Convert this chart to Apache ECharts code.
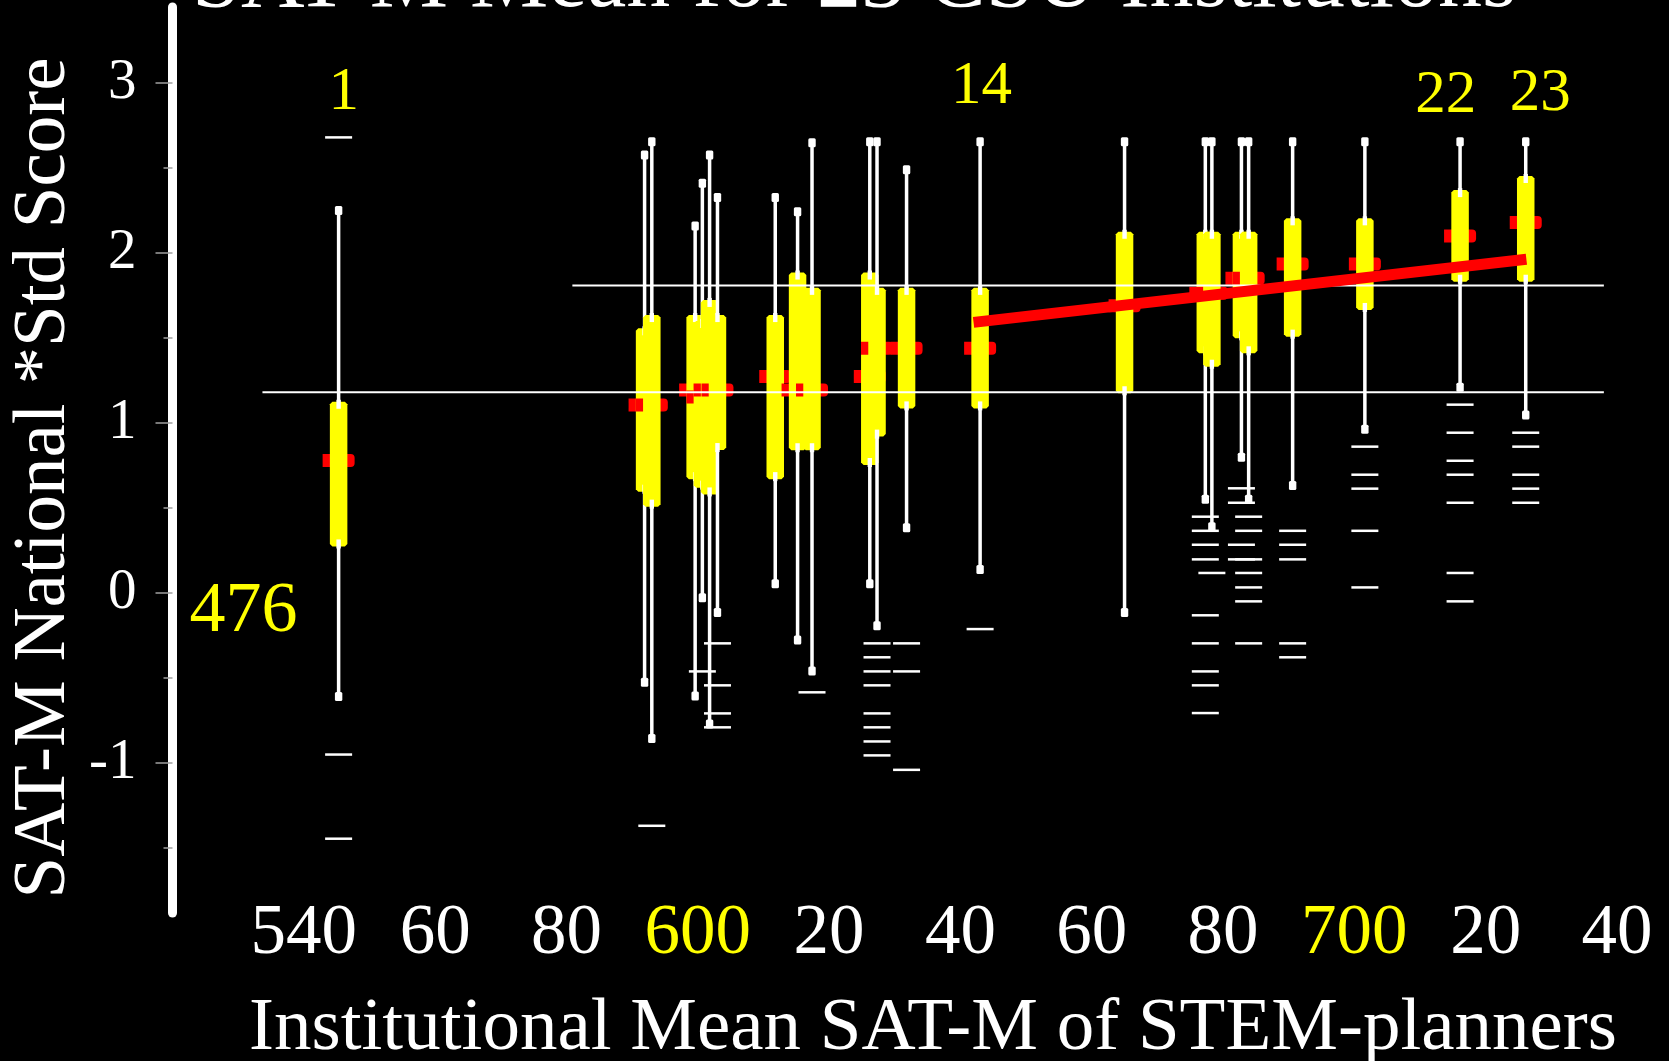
<!DOCTYPE html>
<html>
<head>
<meta charset="utf-8">
<script src="https://cdn.jsdelivr.net/npm/echarts@6/dist/echarts.min.js"></script>
<style>
html,body{margin:0;padding:0;background:#000;}
#chart{width:1669px;height:1061px;}
</style>
</head>
<body>
<div id="chart"></div>
<script>
// ---------------- DATA ----------------
const instNumber   = [1,2,3,4,5,6,7,8,9,10,11,12,13,14,15,16,17,18,19,20,21,22,23];
const satMean      = [545.3,591.9,593.0,599.6,600.7,601.8,603.0,611.8,615.2,617.4,626.2,627.3,631.8,643.0,665.0,677.3,678.3,682.8,683.9,690.6,701.6,716.1,726.1];
const whiskerHigh  = [2.25,2.576,2.655,2.159,2.41,2.576,2.327,2.327,2.243,2.649,2.655,2.655,2.49,2.655,2.655,2.655,2.655,2.655,2.655,2.655,2.655,2.655,2.655];
const boxQ3        = [1.125,1.557,1.635,1.635,1.60,1.724,1.635,1.635,1.885,1.795,1.885,1.795,1.795,1.795,2.125,2.125,2.125,2.125,2.125,2.204,2.204,2.37,2.453];
const meanMark     = [0.78,1.106,1.106,1.194,1.153,1.194,1.194,1.273,1.194,1.194,1.273,1.44,1.44,1.44,1.69,1.763,1.763,1.851,1.851,1.935,1.935,2.10,2.18];
const boxQ1        = [0.274,0.596,0.508,0.67,0.62,0.58,0.841,0.67,0.84,0.84,0.753,0.92,1.086,1.086,1.175,1.41,1.331,1.498,1.41,1.508,1.665,1.831,1.831];
const whiskerLow   = [-0.608,-0.525,-0.855,-0.606,-0.027,-0.77,-0.114,0.055,-0.276,-0.459,0.055,-0.192,0.384,0.138,-0.115,0.551,0.39,0.798,0.551,0.632,0.963,1.21,1.047];
const outliers = [
  [2.68,-0.95,-1.445],
  [],
  [-1.369],
  [],
  [-0.461],
  [],
  [-0.296,-0.543,-0.708,-0.79],
  [],
  [],
  [-0.584],
  [],
  [-0.296,-0.378,-0.461,-0.543,-0.708,-0.79,-0.873,-0.955],
  [-0.296,-0.461,-1.04],
  [-0.212],
  [],
  [0.449,0.366,0.284,0.198,-0.131,-0.296,-0.461,-0.543,-0.706],
  [0.118],
  [0.616,0.531,0.284,0.198],
  [0.449,0.366,0.198,0.118,0.033,-0.049,-0.296],
  [0.366,0.284,0.198,-0.296,-0.378],
  [0.861,0.696,0.614,0.366,0.033],
  [1.108,0.943,0.778,0.696,0.531,0.118,-0.049],
  [0.943,0.861,0.696,0.614,0.531]
];
// regression line
const fitLineSat   = [642.0, 726.2];
const fitLineScore = [1.592, 1.963];
// horizontal reference lines
const refLineScore = [1.181, 1.809];
const refLineFrom  = [533.7, 580.9];
const refLineTo    = [738.0, 738.0];
// annotations
const topLabelText  = ['1','14','22','23'];
const topLabelSat   = [546.1, 643.2, 713.9, 728.3];
const topLabelScore = [2.94, 2.975, 2.925, 2.935];
const countLabelText  = ['476'];
const countLabelSat   = [530.8];
const countLabelScore = [-0.11];
// axes
const xTickValues = [540,560,580,600,620,640,660,680,700,720,740];
const xTickText   = ['540','60','80','600','20','40','60','80','700','20','40'];
const xTickYellow = [600,700];
const yMajorTicks = [-1,0,1,2,3];
const yMinorTicks = [-1.5,-0.5,0.5,1.5,2.5];
const yAxisBottom = -1.882;
const yAxisTop    = 3.447;
const xAxisMin = 520, xAxisMax = 740, xAxisStep = 20;

const titleText  = 'SAT-M Mean for 23 CSU Institutions';
const xTitleText = 'Institutional Mean SAT-M of STEM-planners';
const yTitleText = 'SAT-M National *Std Score';

// ---------------- CHART ----------------
const FONT = "'Liberation Serif','Times New Roman',serif";
const chart = echarts.init(document.getElementById('chart'), null, {renderer:'canvas'});

const boxData = instNumber.map((n,i)=>[satMean[i], whiskerLow[i], boxQ1[i], boxQ3[i], whiskerHigh[i], meanMark[i]]);
const outlierData = [];
outliers.forEach((arr,i)=>arr.forEach(v=>outlierData.push([satMean[i], v])));

function renderBox(params, api){
  const x = api.value(0);
  const pLow  = api.coord([x, api.value(1)]);
  const pQ1   = api.coord([x, api.value(2)]);
  const pQ3   = api.coord([x, api.value(3)]);
  const pHigh = api.coord([x, api.value(4)]);
  const pMean = api.coord([x, api.value(5)]);
  const cx = pLow[0];
  const boxW = 17.5, cut = 2.5;
  const yT = pQ3[1], yB = pQ1[1];
  return {
    type:'group',
    children:[
      {type:'line', shape:{x1:cx,y1:pHigh[1],x2:cx,y2:pLow[1]}, style:{stroke:'#fff', lineWidth:3.5}},
      {type:'rect', shape:{x:cx-3.7,y:pHigh[1]-4.5,width:7.4,height:9,r:1.5}, style:{fill:'#fff'}},
      {type:'rect', shape:{x:cx-3.7,y:pLow[1]-4.5,width:7.4,height:9,r:1.5}, style:{fill:'#fff'}},
      {type:'rect', shape:{x:cx-16,y:pMean[1]-6.5,width:32,height:13,r:[0,4,4,0]}, style:{fill:'#ff0000'}},
      {type:'polygon', shape:{points:[
        [cx-boxW/2+cut,yT],[cx+boxW/2-cut,yT],[cx+boxW/2,yT+cut],[cx+boxW/2,yB-cut],
        [cx+boxW/2-cut,yB],[cx-boxW/2+cut,yB],[cx-boxW/2,yB-cut],[cx-boxW/2,yT+cut]]},
        style:{fill:'#ffff00'}},
      {type:'rect', shape:{x:cx-2.2,y:yT-2,width:4.4,height:9}, style:{fill:'#fff'}},
      {type:'rect', shape:{x:cx-2.2,y:yB-7,width:4.4,height:9}, style:{fill:'#fff'}}
    ]
  };
}

const option = {
  backgroundColor:'#000',
  animation:false,
  grid:{left:172.5, right:52, top:7, bottom:148, containLabel:false},
  xAxis:{
    type:'value', min:xAxisMin, max:xAxisMax, interval:xAxisStep,
    axisLine:{show:false}, axisTick:{show:false}, splitLine:{show:false},
    axisLabel:{
      margin:-14,
      fontFamily:FONT, fontSize:71, color:'#fff',
      formatter:function(v){
        const k = xTickValues.indexOf(v);
        if(k<0) return '';
        return (xTickYellow.indexOf(v)>=0 ? '{y|' : '{w|') + xTickText[k] + '}';
      },
      rich:{
        w:{color:'#fff', fontFamily:FONT, fontSize:71},
        y:{color:'#ffff00', fontFamily:FONT, fontSize:71}
      }
    }
  },
  yAxis:[{
    type:'value', min:yAxisBottom, max:yAxisTop,
    axisLine:{show:true, lineStyle:{color:'#fff', width:9}},
    axisTick:{show:true, customValues:yMajorTicks, length:17, lineStyle:{color:'#a0a0a0', width:1.5}},
    axisLabel:{customValues:yMajorTicks, margin:36, color:'#fff', fontSize:57, fontFamily:FONT},
    splitLine:{show:false}
  },{
    type:'value', min:yAxisBottom, max:yAxisTop, position:'left',
    axisLine:{show:false},
    axisTick:{show:true, customValues:yMinorTicks, length:9, lineStyle:{color:'#a0a0a0', width:1.5}},
    axisLabel:{show:false}, splitLine:{show:false}
  }],
  graphic:[
    {type:'text', left:192, top:-61, style:{text:titleText, fill:'#fff', font:'88px '+FONT}},
    {type:'text', x:933, y:1029, style:{text:xTitleText, fill:'#fff', font:'75px '+FONT, textAlign:'center', textVerticalAlign:'middle'}},
    {type:'text', x:44, y:478, rotation:Math.PI/2, style:{text:yTitleText, fill:'#fff', font:'75px '+FONT, textAlign:'center', textVerticalAlign:'middle'}}
  ],
  series:[
    {
      type:'custom', name:'boxes', renderItem:renderBox, data:boxData, z:2,
      encode:{x:0, y:[1,2,3,4,5]}, clip:false
    },
    {
      type:'scatter', name:'outliers', data:outlierData, symbol:'rect', symbolSize:[27,2.5],
      itemStyle:{color:'#fff', opacity:1}, z:3, silent:true
    },
    {
      type:'line', name:'ref1', data:[[refLineFrom[0],refLineScore[0]],[refLineTo[0],refLineScore[0]]],
      symbol:'none', lineStyle:{color:'#fff', width:2}, z:4
    },
    {
      type:'line', name:'ref2', data:[[refLineFrom[1],refLineScore[1]],[refLineTo[1],refLineScore[1]]],
      symbol:'none', lineStyle:{color:'#fff', width:2}, z:4
    },
    {
      type:'line', name:'fit', data:fitLineSat.map((s,i)=>[s, fitLineScore[i]]),
      symbol:'none', lineStyle:{color:'#ff0000', width:11, cap:'butt'}, z:5
    },
    {
      type:'scatter', name:'topLabels', symbolSize:0, z:6, itemStyle:{opacity:1},
      data:topLabelText.map((t,i)=>({name:t, value:[topLabelSat[i], topLabelScore[i]]})),
      label:{show:true, position:'inside', formatter:'{b}', color:'#ffff00', opacity:1, fontSize:61, fontFamily:FONT}
    },
    {
      type:'scatter', name:'countLabel', symbolSize:0, z:6, itemStyle:{opacity:1},
      data:countLabelText.map((t,i)=>({name:t, value:[countLabelSat[i], countLabelScore[i]]})),
      label:{show:true, position:'inside', formatter:'{b}', color:'#ffff00', opacity:1, fontSize:72, fontFamily:FONT}
    }
  ]
};
chart.setOption(option);
</script>
</body>
</html>
